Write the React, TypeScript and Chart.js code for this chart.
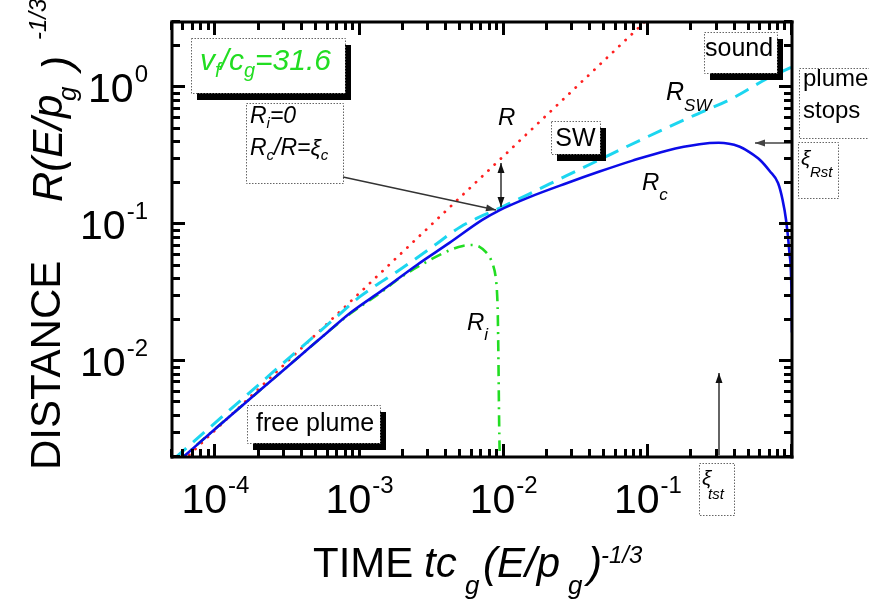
import React, { useEffect, useRef } from "react";
import { Chart, registerables } from "chart.js";

Chart.register(...registerables);

const FONT = '"Liberation Sans", Arial, Helvetica, sans-serif';

// axis ranges
const X_MIN = 5e-5;
const X_MAX = 1;
const Y_MIN = 2e-3;
const Y_MAX = 3;

// labelled decades
const xTickExps = [-4, -3, -2, -1];
const yTickExps = [0, -1, -2];

// minor/major tick values (mantissa x decade)
const tickMantissas = [1, 2, 3, 4, 5, 6, 7, 8, 9];
const xTickDecades = [-5, -4, -3, -2, -1, 0];
const yTickDecades = [-3, -2, -1, 0];

// R (free plume, red dotted)
const rX = [4e-5, 0.12];
const rY = [1.26e-3, 3.79];

// R_c (blue solid)
const rcX = [5.5e-5, 1e-4, 2e-4, 4e-4, 6e-4, 8.6e-4, 1.45e-3, 2.5e-3, 4.2e-3, 7.1e-3, 9.4e-3, 0.0151, 0.0273, 0.0462, 0.0783, 0.135, 0.228, 0.31, 0.43, 0.5, 0.6, 0.7, 0.8, 0.86, 0.91, 0.96, 0.99, 0.999];
const rcY = [1.85e-3, 3.22e-3, 6.04e-3, 0.0113, 0.0163, 0.0225, 0.0332, 0.0505, 0.0731, 0.1076, 0.127, 0.158, 0.1995, 0.2427, 0.2917, 0.345, 0.384, 0.3936, 0.37, 0.339, 0.295, 0.245, 0.2, 0.151, 0.107, 0.062, 0.035, 0.0162];

// R_SW (cyan dashed)
const swX = [5.25e-5, 1e-4, 2e-4, 4e-4, 7e-4, 1e-3, 1.9e-3, 3.2e-3, 5e-3, 9.4e-3, 0.0151, 0.0273, 0.0462, 0.0875, 0.195, 0.386, 0.664, 1.0];
const swY = [1.97e-3, 3.57e-3, 6.76e-3, 0.0128, 0.0213, 0.0295, 0.0465, 0.0684, 0.0957, 0.1315, 0.167, 0.2265, 0.296, 0.409, 0.603, 0.832, 1.15, 1.41];

// R_i (green dash-dot)
const riX = [5.5e-5, 1e-4, 2e-4, 4e-4, 6e-4, 8.6e-4, 1.45e-3, 1.9e-3, 2.9e-3, 4.2e-3, 5.2e-3, 6.0e-3, 6.8e-3, 7.5e-3, 8.0e-3, 8.4e-3, 8.8e-3, 9.0e-3, 9.1e-3, 9.2e-3, 9.3e-3, 9.4e-3];
const riY = [1.85e-3, 3.22e-3, 6.04e-3, 0.0113, 0.0163, 0.0222, 0.0325, 0.0405, 0.053, 0.0645, 0.0695, 0.0706, 0.0685, 0.063, 0.0575, 0.051, 0.041, 0.031, 0.022, 0.0097, 0.0035, 0.0019];

const pts = (xs: number[], ys: number[]) => xs.map((x, i) => ({ x, y: ys[i] }));

type Seg = { t: string; size: number; it?: boolean; dy?: number; dx?: number };

function fontOf(s: Seg) {
  return `${s.it ? "italic " : ""}${s.size}px ${FONT}`;
}

function rich(ctx: CanvasRenderingContext2D, segs: Seg[], x: number, y: number, color = "#000", align: "left" | "center" | "right" = "left", rot = 0) {
  ctx.save();
  ctx.fillStyle = color;
  ctx.textBaseline = "alphabetic";
  ctx.textAlign = "left";
  const ws = segs.map((s) => {
    ctx.font = fontOf(s);
    return ctx.measureText(s.t).width + (s.dx || 0);
  });
  const total = ws.reduce((a, b) => a + b, 0);
  ctx.translate(x, y);
  if (rot) ctx.rotate(rot);
  let cx = align === "center" ? -total / 2 : align === "right" ? -total : 0;
  segs.forEach((s, i) => {
    ctx.font = fontOf(s);
    ctx.fillText(s.t, cx + (s.dx || 0), s.dy || 0);
    cx += ws[i];
  });
  ctx.restore();
}

function box(ctx: CanvasRenderingContext2D, x: number, y: number, w: number, h: number, shadow: boolean) {
  ctx.save();
  if (shadow) {
    ctx.fillStyle = "#000";
    ctx.fillRect(x + 6, y + 7, w, h);
  }
  ctx.fillStyle = "#fff";
  ctx.fillRect(x, y, w, h);
  ctx.strokeStyle = "#666";
  ctx.lineWidth = 1;
  ctx.setLineDash([1.5, 1.5]);
  ctx.strokeRect(x + 0.5, y + 0.5, w, h);
  ctx.restore();
}

function head(ctx: CanvasRenderingContext2D, fx: number, fy: number, x: number, y: number, color: string) {
  const a = Math.atan2(y - fy, x - fx);
  const len = 10, wid = 3.5;
  ctx.save();
  ctx.fillStyle = color;
  ctx.beginPath();
  ctx.moveTo(x, y);
  ctx.lineTo(x - len * Math.cos(a) + wid * Math.sin(a), y - len * Math.sin(a) - wid * Math.cos(a));
  ctx.lineTo(x - len * Math.cos(a) - wid * Math.sin(a), y - len * Math.sin(a) + wid * Math.cos(a));
  ctx.closePath();
  ctx.fill();
  ctx.restore();
}

function arrow(ctx: CanvasRenderingContext2D, x1: number, y1: number, x2: number, y2: number, color = "#222", both = false) {
  ctx.save();
  ctx.setLineDash([]);
  ctx.strokeStyle = color;
  ctx.lineWidth = 1.3;
  ctx.beginPath();
  ctx.moveTo(x1, y1);
  ctx.lineTo(x2, y2);
  ctx.stroke();
  ctx.restore();
  head(ctx, x1, y1, x2, y2, color);
  if (both) head(ctx, x2, y2, x1, y1, color);
}

const decoPlugin = {
  id: "deco",
  afterDraw(chart: any) {
    const ctx: CanvasRenderingContext2D = chart.ctx;
    const a = chart.chartArea;
    const xs = chart.scales.x;
    const ys = chart.scales.y;
    const L = Math.round(a.left), Rr = Math.round(a.right), T = Math.round(a.top), B = Math.round(a.bottom);
    ctx.save();

    // tick labels
    xTickExps.forEach((e) => {
      const px = xs.getPixelForValue(Math.pow(10, e));
      rich(ctx, [{ t: "10", size: 41 }, { t: String(e), size: 24, dy: -20, dx: 1 }], px, B + 56, "#000", "center");
    });
    yTickExps.forEach((e) => {
      const py = ys.getPixelForValue(Math.pow(10, e));
      rich(ctx, [{ t: "10", size: 41 }, { t: String(e), size: 24, dy: -20, dx: 1 }], 148, py + 15, "#000", "right");
    });

    // axis titles
    rich(ctx, [{ t: "TIME", size: 42 }], 313, 577);
    rich(ctx, [{ t: "tc", size: 42, it: true }], 424, 577);
    rich(ctx, [{ t: "g", size: 26, it: true }], 465, 594);
    rich(ctx, [{ t: "(E/p", size: 42, it: true }], 483, 577);
    rich(ctx, [{ t: "g", size: 26, it: true }], 568, 594);
    rich(ctx, [{ t: ")", size: 42, it: true }], 588, 577);
    rich(ctx, [{ t: "-1/3", size: 24, it: true }], 601, 563);

    const up = -Math.PI / 2;
    rich(ctx, [{ t: "DISTANCE", size: 42 }], 60, 470, "#000", "left", up);
    rich(ctx, [{ t: "R(E/p", size: 42, it: true }], 62, 202, "#000", "left", up);
    rich(ctx, [{ t: "g", size: 26, it: true }], 76, 101, "#000", "left", up);
    rich(ctx, [{ t: ")", size: 42, it: true }], 72, 70, "#000", "left", up);
    rich(ctx, [{ t: "-1/3", size: 24, it: true }], 46, 40, "#000", "left", up);

    // annotation boxes
    box(ctx, 191, 38, 154, 55, true);
    rich(ctx, [
      { t: "v", size: 30, it: true },
      { t: "f", size: 20, it: true, dy: 7 },
      { t: "/c", size: 30, it: true },
      { t: "g", size: 20, it: true, dy: 7 },
      { t: "=31.6", size: 30, it: true },
    ], 200, 70, "#22dd22");

    box(ctx, 246, 103, 97, 80, false);
    rich(ctx, [{ t: "R", size: 23, it: true }, { t: "i", size: 15, it: true, dy: 5 }, { t: "=0", size: 23, it: true }], 250, 123);
    rich(ctx, [{ t: "R", size: 23, it: true }, { t: "c", size: 15, it: true, dy: 5 }, { t: "/R=ξ", size: 23, it: true }, { t: "c", size: 15, it: true, dy: 5 }], 250, 155);
    arrow(ctx, 343, 177, 496, 210, "#333");

    rich(ctx, [{ t: "R", size: 24, it: true }], 498, 125);
    arrow(ctx, 501, 163, 501, 207, "#111", true);

    box(ctx, 551, 121, 49, 33, true);
    rich(ctx, [{ t: "SW", size: 25 }], 575.5, 146, "#000", "center");

    box(ctx, 704, 32, 73, 41, true);
    rich(ctx, [{ t: "sound", size: 25 }], 705, 56);

    rich(ctx, [{ t: "R", size: 25, it: true }, { t: "SW", size: 17, it: true, dy: 11 }], 666, 100);

    box(ctx, 799, 68, 80, 70, false);
    rich(ctx, [{ t: "plume", size: 24 }], 803, 86);
    rich(ctx, [{ t: "stops", size: 24 }], 803, 118);

    box(ctx, 798, 142, 40, 56, false);
    rich(ctx, [{ t: "ξ", size: 21, it: true }], 801, 165);
    rich(ctx, [{ t: "Rst", size: 15, it: true }], 810, 177);
    arrow(ctx, 791, 143, 755, 143, "#444");

    rich(ctx, [{ t: "R", size: 24, it: true }, { t: "c", size: 17, it: true, dy: 10 }], 642, 190);
    rich(ctx, [{ t: "R", size: 24, it: true }, { t: "i", size: 17, it: true, dy: 10 }], 467, 330);

    box(ctx, 247, 405, 133, 38, true);
    rich(ctx, [{ t: "free plume", size: 25 }], 256, 431);

    arrow(ctx, 719, 455, 719, 373, "#111");
    box(ctx, 699, 463, 35, 52, false);
    rich(ctx, [{ t: "ξ", size: 21, it: true }], 702, 485);
    rich(ctx, [{ t: "tst", size: 15, it: true }], 708, 499);

    // ticks (inward) on all four sides, drawn last
    ctx.fillStyle = "rgb(0,0,0)";
    ctx.globalAlpha = 1;
    ctx.globalCompositeOperation = "source-over";
    xTickDecades.forEach((e) => {
      tickMantissas.forEach((m) => {
        const v = m * Math.pow(10, e);
        if (v < X_MIN * 0.999 || v > X_MAX * 1.001) return;
        const px = Math.round(xs.getPixelForValue(v));
        const len = m === 1 ? 13 : 8;
        ctx.fillRect(px - 2, B - len, 3, len);
        ctx.fillRect(px - 2, T, 3, len);
      });
    });
    yTickDecades.forEach((e) => {
      tickMantissas.forEach((m) => {
        const v = m * Math.pow(10, e);
        if (v < Y_MIN * 0.999 || v > Y_MAX * 1.001) return;
        const py = Math.round(ys.getPixelForValue(v));
        const len = m === 1 ? 13 : 8;
        ctx.fillRect(L, py - 2, len, 3);
        ctx.fillRect(Rr - len, py - 2, len, 3);
      });
    });
    // frame
    ctx.fillRect(L - 1.5, T - 1.5, Rr - L + 3, 3);
    ctx.fillRect(L - 1.5, B - 1.5, Rr - L + 3, 3);
    ctx.fillRect(L - 1.5, T - 1.5, 3, B - T + 3);
    ctx.fillRect(Rr - 1.5, T - 1.5, 3, B - T + 3);

    ctx.restore();
  },
};

export default function App() {
  const ref = useRef<HTMLCanvasElement>(null);
  useEffect(() => {
    if (!ref.current) return;
    const chart = new Chart(ref.current, {
      type: "line",
      data: {
        datasets: [
          {
            label: "R_c",
            data: pts(rcX, rcY),
            borderColor: "#0c0ce8",
            borderWidth: 2.6,
            pointRadius: 0,
            cubicInterpolationMode: "monotone",
            fill: false,
          },
          {
            label: "R_i",
            data: pts(riX, riY),
            borderColor: "#22dd22",
            borderWidth: 2.6,
            borderDash: [11, 6, 2, 6],
            pointRadius: 0,
            cubicInterpolationMode: "monotone",
            fill: false,
          },
          {
            label: "R_SW",
            data: pts(swX, swY),
            borderColor: "#1cd6f0",
            borderWidth: 3,
            borderDash: [15, 9],
            pointRadius: 0,
            cubicInterpolationMode: "monotone",
            fill: false,
          },
          {
            label: "R",
            data: pts(rX, rY),
            borderColor: "#ff2020",
            borderWidth: 2.8,
            borderDash: [0.1, 8.5],
            borderCapStyle: "round",
            pointRadius: 0,
            fill: false,
          },
        ],
      },
      options: {
        responsive: false,
        animation: false,
        devicePixelRatio: 1,
        layout: { padding: { left: 172, top: 22, right: 77, bottom: 156 } },
        plugins: { legend: { display: false }, tooltip: { enabled: false } },
        scales: {
          x: { type: "logarithmic", min: X_MIN, max: X_MAX, display: false },
          y: { type: "logarithmic", min: Y_MIN, max: Y_MAX, display: false },
        },
      },
      plugins: [decoPlugin],
    } as any);
    return () => chart.destroy();
  }, []);
  return (
    <div style={{ position: "absolute", left: 0, top: 0, width: 869, height: 613, background: "#fff" }}>
      <canvas ref={ref} width={869} height={613} style={{ display: "block" }} />
    </div>
  );
}
